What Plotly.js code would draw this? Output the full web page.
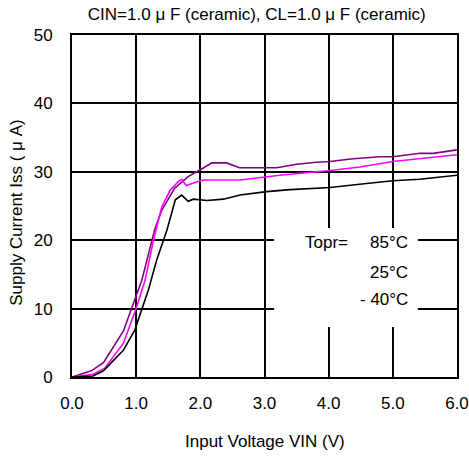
<!DOCTYPE html>
<html>
<head>
<meta charset="utf-8">
<script src="https://cdn.plot.ly/plotly-3.0.1.min.js"></script>
<style>html,body{margin:0;padding:0;background:#fff;}#chart{width:469px;height:457px;}</style>
</head>
<body>
<div id="chart"></div>
<script>
// Topr = 85 degC (purple)
const vin85 = [0, 0.30, 0.49, 0.80, 0.92, 1.09, 1.29, 1.40, 1.60, 1.81, 2.00, 2.18, 2.41, 2.61, 3.19, 3.50, 3.81, 4.02, 4.38, 4.80, 5.00, 5.42, 5.63, 6.00];
const iss85 = [0, 0.9, 2.1, 6.7, 9.8, 14.2, 21.6, 24.4, 27.6, 29.3, 30.3, 31.3, 31.3, 30.6, 30.6, 31.1, 31.4, 31.5, 31.9, 32.2, 32.2, 32.7, 32.7, 33.2];
// Topr = 25 degC (magenta)
const vin25 = [0, 0.33, 0.51, 0.80, 1.01, 1.14, 1.27, 1.40, 1.53, 1.66, 1.71, 1.78, 2.00, 2.07, 2.62, 3.24, 4.02, 4.49, 5.00, 5.42, 6.00];
const iss25 = [0, 0.4, 1.3, 4.9, 10.3, 14.2, 20.0, 24.9, 27.3, 28.6, 28.9, 28.0, 28.7, 28.8, 28.8, 29.5, 30.2, 30.7, 31.5, 31.9, 32.5];
// Topr = -40 degC (black)
const vinM40 = [0, 0.33, 0.49, 0.80, 0.98, 1.19, 1.32, 1.48, 1.61, 1.71, 1.81, 1.89, 2.10, 2.36, 2.62, 3.03, 3.40, 4.02, 4.59, 5.00, 5.42, 6.00];
const issM40 = [0, 0.15, 0.9, 3.9, 6.9, 12.7, 17.1, 21.5, 25.9, 26.6, 25.7, 26.0, 25.8, 26.0, 26.6, 27.1, 27.4, 27.7, 28.3, 28.7, 28.9, 29.5];

const seriesNames = ["85°C", "25°C", "- 40°C"];
const xTickVals = [0, 1, 2, 3, 4, 5, 6];
const xTickText = ["0.0", "1.0", "2.0", "3.0", "4.0", "5.0", "6.0"];
const yTickVals = [0, 10, 20, 30, 40, 50];
const chartTitle = "CIN=1.0 μ F (ceramic), CL=1.0 μ F (ceramic)";
const xTitle = "Input Voltage VIN (V)";
const yTitle = "Supply Current Iss ( μ A)";

const FONT = "'Liberation Sans', Arial, sans-serif";

const traces = [
  {x: vin85, y: iss85, mode: "lines", line: {color: "#800080", width: 1.6}, name: seriesNames[0]},
  {x: vin25, y: iss25, mode: "lines", line: {color: "#ff00ff", width: 1.6}, name: seriesNames[1]},
  {x: vinM40, y: issM40, mode: "lines", line: {color: "#000000", width: 1.6}, name: seriesNames[2]}
];

const layout = {
  width: 469, height: 457,
  margin: {l: 72, r: 12, t: 35, b: 80},
  paper_bgcolor: "#fff", plot_bgcolor: "#fff",
  showlegend: false,
  font: {family: FONT, size: 17, color: "#000"},
  title: {text: chartTitle, font: {size: 17, family: FONT, color: "#000"}, xref: "paper", x: 0.48, xanchor: "center", yref: "container", y: 0.969, yanchor: "middle"},
  xaxis: {
    range: [0, 6], tickvals: xTickVals, ticktext: xTickText,
    showgrid: true, gridcolor: "#000", gridwidth: 2,
    showline: true, linecolor: "#000", linewidth: 2, mirror: true,
    zeroline: false, ticks: "", ticklabelstandoff: 10,
    tickfont: {size: 17}
  },
  yaxis: {
    range: [0, 50], tickvals: yTickVals,
    showgrid: true, gridcolor: "#000", gridwidth: 2,
    showline: true, linecolor: "#000", linewidth: 2, mirror: true,
    zeroline: false, ticks: "", ticklabelstandoff: 14,
    tickfont: {size: 17}
  },
  shapes: [
    {type: "rect", xref: "x", yref: "y", x0: 3.15, x1: 5.39, y0: 7.3, y1: 21.8, fillcolor: "#fff", line: {width: 0}, layer: "above"}
  ],
  annotations: [
    {xref: "paper", yref: "paper", x: 0.5, y: -0.19, text: xTitle, showarrow: false, xanchor: "center", yanchor: "middle", font: {size: 17}},
    {xref: "paper", yref: "paper", x: -0.1429, y: 0.48, text: yTitle, textangle: -90, showarrow: false, xanchor: "center", yanchor: "middle", font: {size: 17}},
    {xref: "x", yref: "y", x: 3.6, y: 19.6, text: "Topr=", showarrow: false, xanchor: "left", yanchor: "middle", font: {size: 17}},
    {xref: "x", yref: "y", x: 5.27, y: 19.6, text: seriesNames[0], showarrow: false, xanchor: "right", yanchor: "middle", font: {size: 17}},
    {xref: "x", yref: "y", x: 5.27, y: 15.35, text: seriesNames[1], showarrow: false, xanchor: "right", yanchor: "middle", font: {size: 17}},
    {xref: "x", yref: "y", x: 5.27, y: 11.4, text: seriesNames[2], showarrow: false, xanchor: "right", yanchor: "middle", font: {size: 17}}
  ]
};

Plotly.newPlot("chart", traces, layout, {displayModeBar: false, staticPlot: true});
</script>
</body>
</html>
